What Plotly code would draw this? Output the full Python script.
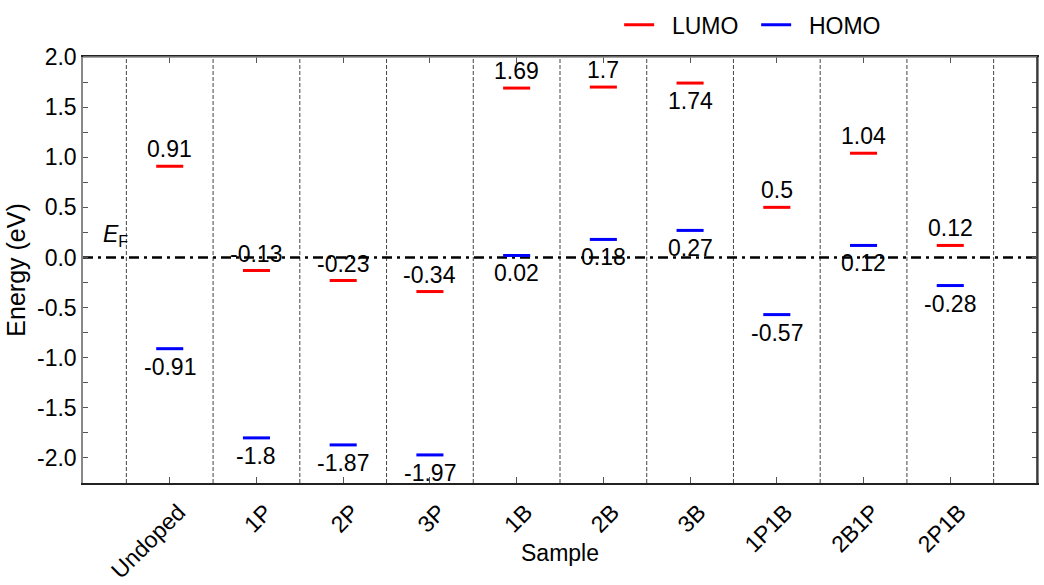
import plotly.graph_objects as go

categories = ["Undoped", "1P", "2P", "3P", "1B", "2B", "3B", "1P1B", "2B1P", "2P1B"]
lumo = [0.91, -0.13, -0.23, -0.34, 1.69, 1.7, 1.74, 0.5, 1.04, 0.12]
homo = [-0.91, -1.8, -1.87, -1.97, 0.02, 0.18, 0.27, -0.57, 0.12, -0.28]
y_ticks = [2.0, 1.5, 1.0, 0.5, 0.0, -0.5, -1.0, -1.5, -2.0]

FONT = "Liberation Sans, Arial, sans-serif"
HW = 0.156  # half width of level segment (category units)
n = len(categories)
xpos = list(range(n))
NB = "\u00a0"


def segments(vals):
    xs, ys = [], []
    for i, v in zip(xpos, vals):
        xs += [i - HW, i + HW, None]
        ys += [v, v, None]
    return xs, ys


fig = go.Figure()
for name, vals, col in [("LUMO", lumo, "#ff0000"), ("HOMO", homo, "#0000ff")]:
    xs, ys = segments(vals)
    fig.add_trace(go.Scatter(x=xs, y=ys, mode="lines", name=NB * 2 + name + NB * 2,
                             line=dict(color=col, width=3), hoverinfo="skip"))

# value labels
for i, v in zip(xpos, lumo):
    below = v > 1.72
    fig.add_annotation(x=i, y=v, xref="x", yref="y", text=f"{v:g}", showarrow=False,
                       yanchor="top" if below else "bottom",
                       yshift=-3 if below else 2,
                       font=dict(family=FONT, size=23, color="black"))
for i, v in zip(xpos, homo):
    fig.add_annotation(x=i, y=v, xref="x", yref="y", text=f"{v:g}", showarrow=False,
                       yanchor="top", yshift=-3,
                       font=dict(family=FONT, size=23, color="black"))

# separators
for k in range(n + 1):
    fig.add_shape(type="line", xref="x", yref="paper", x0=k - 0.5, x1=k - 0.5, y0=0, y1=1,
                  line=dict(color="#444444", width=1, dash="4px,2px"), layer="below")

# Fermi level
fig.add_shape(type="line", xref="paper", yref="y", x0=0, x1=1, y0=0, y1=0,
              line=dict(color="black", width=2.5, dash="10px,5px,3px,5px"), layer="below")
fig.add_annotation(x=-0.5, y=0, xref="x", yref="y", text="<i>E</i><sub>F</sub>",
                   showarrow=False, xanchor="right", yanchor="bottom", xshift=4, yshift=5,
                   font=dict(family=FONT, size=23, color="black"))

# x-axis title
fig.add_annotation(x=0.5, y=-0.164, xref="paper", yref="paper", text="Sample",
                   showarrow=False, xanchor="center", yanchor="middle",
                   font=dict(family=FONT, size=23, color="black"))

# frame lines: top grey, right black
fig.add_shape(type="line", xref="paper", yref="paper", x0=0, x1=1, y0=1, y1=1,
              line=dict(color="#888888", width=1.5), layer="above")
fig.add_shape(type="line", xref="paper", yref="paper", x0=1, x1=1, y0=0, y1=1,
              line=dict(color="#222222", width=1.5), layer="above")

fig.update_layout(
    width=1044, height=585,
    margin=dict(l=83, r=7, t=57, b=102, autoexpand=False),
    paper_bgcolor="white", plot_bgcolor="white",
    font=dict(family=FONT, size=23, color="black"),
    showlegend=True,
    legend=dict(orientation="h", x=0.562, y=1.025, xanchor="left", yanchor="bottom",
                font=dict(family=FONT, size=23), bgcolor="rgba(0,0,0,0)",
                itemwidth=30),
    xaxis=dict(range=[-1, n], tickmode="array", tickvals=xpos,
               ticktext=categories, tickangle=-45, automargin=False,
               ticklabelshift=9, ticklabelstandoff=5,
               showline=True, linecolor="#222222", linewidth=1.5, mirror="ticks",
               ticks="inside", ticklen=6, tickcolor="#555555", showgrid=False, zeroline=False,
               tickfont=dict(family=FONT, size=23)),
    yaxis=dict(range=[-2.25, 2.0], tickmode="array", tickvals=y_ticks,
               ticktext=[f"{t:.1f}" for t in y_ticks], automargin=False,
               showline=True, linecolor="#888888", linewidth=1.5, mirror="ticks",
               ticks="inside", ticklen=5, tickcolor="#555555", showgrid=False, zeroline=False,
               minor=dict(dtick=0.25, tick0=0, ticks="inside", ticklen=5, tickcolor="#555555"),
               title=dict(text="Energy (eV)", font=dict(size=25), standoff=4),
               tickfont=dict(family=FONT, size=23)),
)

fig.write_html("out.html")
